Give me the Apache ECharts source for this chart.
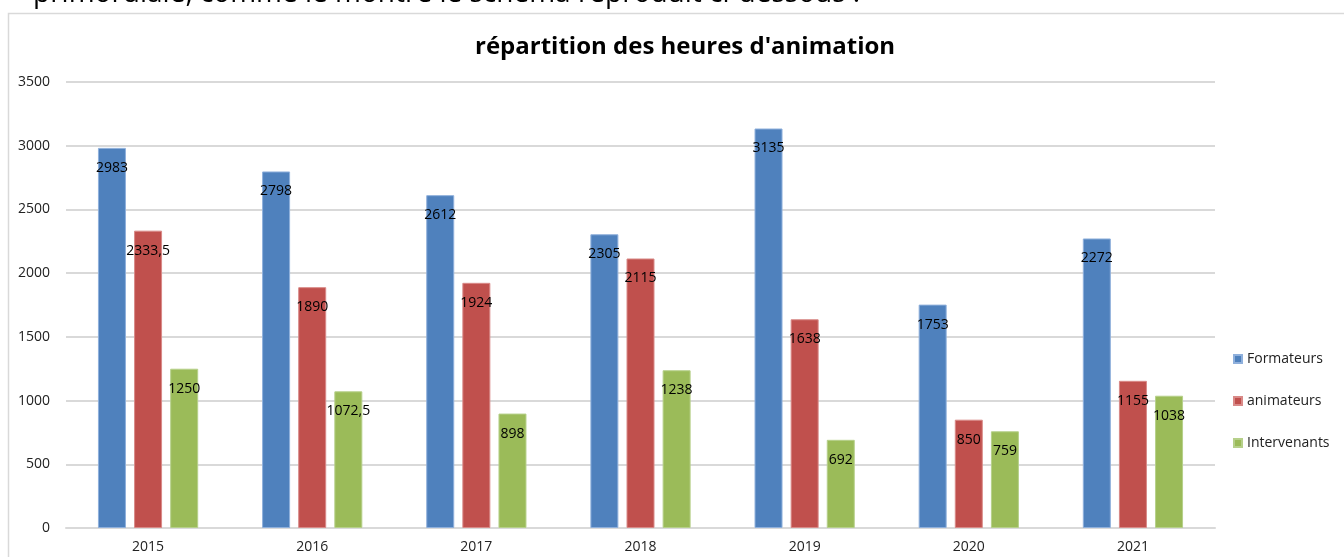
<!DOCTYPE html>
<html>
<head>
<meta charset="utf-8">
<title>répartition des heures d'animation</title>
<script src="https://cdn.jsdelivr.net/npm/echarts@6/dist/echarts.min.js"></script>
<style>
    html, body { margin: 0; padding: 0; background: #fff; }
    #main { width: 1344px; height: 557px; }
</style>
</head>
<body>
<div id="main"></div>
<script>
// données
var annees = ['2015', '2016', '2017', '2018', '2019', '2020', '2021'];
var formateurs = [2983, 2798, 2612, 2305, 3135, 1753, 2272];
var animateurs = [2333.5, 1890, 1924, 2115, 1638, 850, 1155];
var intervenants = [1250, 1072.5, 898, 1238, 692, 759, 1038];
var couleurs = ['#4F81BD', '#C0504D', '#9BBB59'];

function virgule(p){
    return String(p.value).replace('.', ',');
}

function serie(nom, data, couleur, bord){
    return {
        name: nom,
        type: 'bar',
        data: data,
        barWidth: 28,
        barGap: '29%',
        itemStyle: { color: couleur, borderColor: bord, borderWidth: 1 },
        label: {
            show: true,
            position: 'insideTop',
            distance: 13,
            formatter: virgule,
            color: '#000',
            fontSize: 14,
            fontFamily: 'Open Sans'
        }
    };
}

var myChart = echarts.init(document.getElementById('main'));
var option = {
    animation: false,
    color: couleurs,
    title: {
        text: "répartition des heures d'animation",
        left: 470,
        top: 30,
        textStyle: { fontSize: 24, fontWeight: 'bold', color: '#000', fontFamily: 'Open Sans' }
    },
    graphic: [
        {
            type: 'rect',
            shape: { x: 8.5, y: 13.5, width: 1345, height: 560 },
            style: { fill: 'none', stroke: '#d9d9d9', lineWidth: 1.5 },
            silent: true
        },
        {
            type: 'text',
            left: 33,
            top: -20,
            style: {
                text: 'primordiale, comme le montre le schéma reproduit ci-dessous :',
                fontSize: 28,
                fontFamily: 'Open Sans',
                fill: '#000'
            }
        }
    ],
    legend: {
        orient: 'vertical',
        left: 1228,
        top: 347,
        itemGap: 28,
        itemWidth: 8,
        itemHeight: 8,
        icon: 'rect',
        textStyle: { fontSize: 14, color: '#222', fontFamily: 'Open Sans' }
    },
    grid: { left: 66, right: 129, top: 82, bottom: 29 },
    xAxis: {
        type: 'category',
        data: annees,
        axisLine: { lineStyle: { color: '#d9d9d9', width: 2 } },
        axisTick: { show: false },
        axisLabel: { color: '#222', fontSize: 14, margin: 12, fontFamily: 'Open Sans' }
    },
    yAxis: {
        type: 'value',
        min: 0,
        max: 3500,
        interval: 500,
        splitLine: { lineStyle: { color: '#d9d9d9', width: 2 } },
        axisLabel: {
            color: '#222', fontSize: 14, margin: 16, fontFamily: 'Open Sans',
            formatter: function(v){ return String(v); }
        }
    },
    series: [
        serie('Formateurs', formateurs, couleurs[0], '#8fb0dc'),
        serie('animateurs', animateurs, couleurs[1], '#d98a88'),
        serie('Intervenants', intervenants, couleurs[2], '#b6d08a')
    ]
};
myChart.setOption(option);
</script>
</body>
</html>
